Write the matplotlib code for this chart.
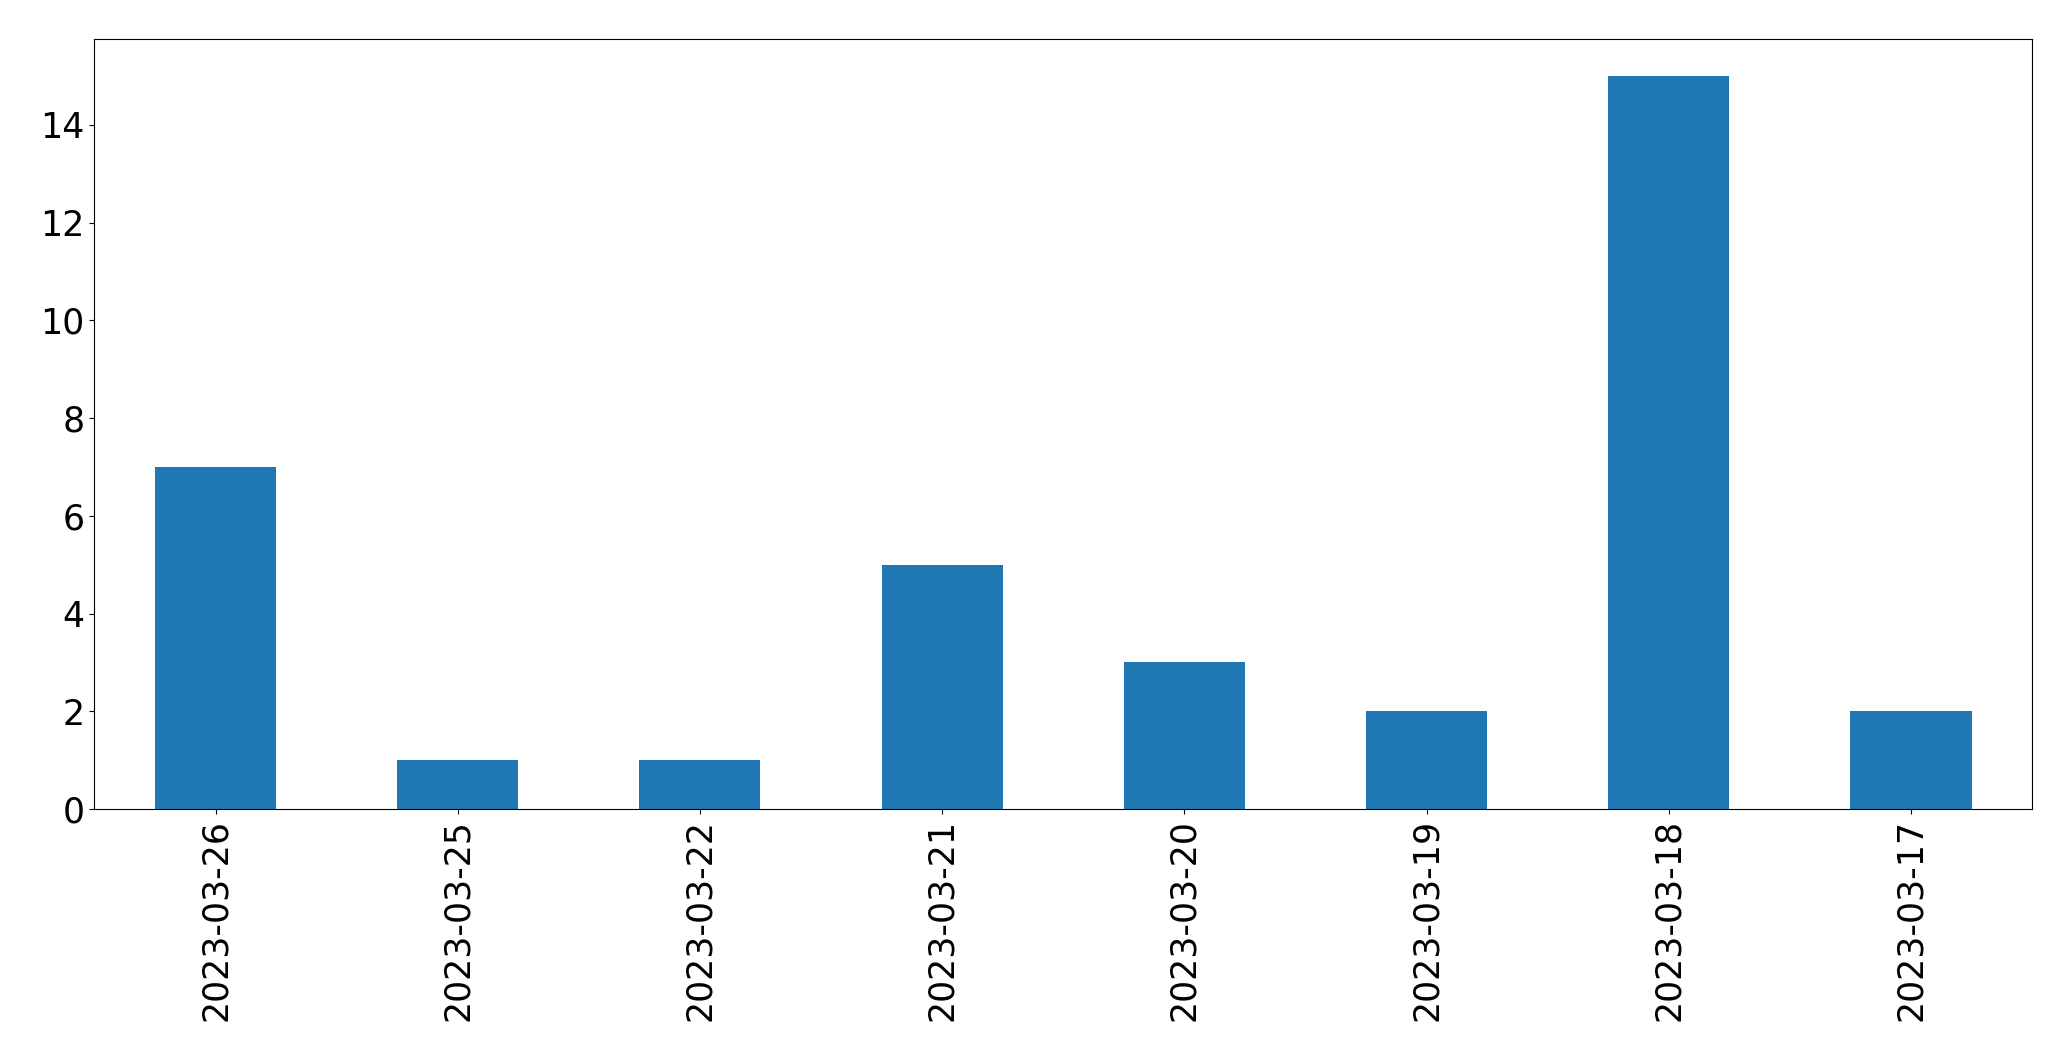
import pandas as pd
import matplotlib
matplotlib.use('Agg')
import matplotlib.pyplot as plt

dates  = ['2023-03-26', '2023-03-25', '2023-03-22', '2023-03-21',
          '2023-03-20', '2023-03-19', '2023-03-18', '2023-03-17']
counts = [7, 1, 1, 5, 3, 2, 15, 2]

s = pd.Series(counts, index=dates)

fig, ax = plt.subplots(figsize=(20.71, 10.61), dpi=100)
s.plot(kind='bar', ax=ax, color='#1f77b4')

plt.xticks(rotation='vertical', fontsize=25)
plt.yticks(fontsize=25)
plt.subplots_adjust(left=0.0456, right=0.9812, top=0.9628, bottom=0.2375)
plt.savefig('out.png', dpi=100)
